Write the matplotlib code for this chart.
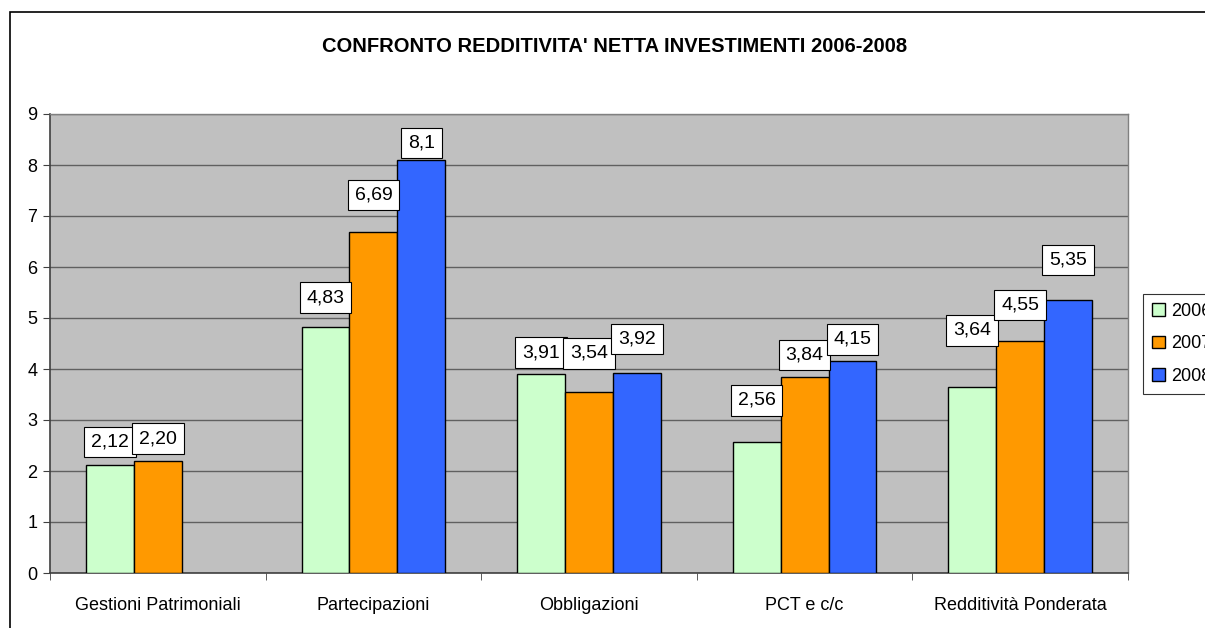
import matplotlib
matplotlib.use("Agg")
import numpy as np
import matplotlib.pyplot as plt
from matplotlib.patches import Patch, Rectangle

plt.rcParams['font.family'] = ['Liberation Sans', 'DejaVu Sans']

# Data
categories = ["Gestioni Patrimoniali", "Partecipazioni", "Obbligazioni",
              "PCT e c/c", "Redditività Ponderata"]
years = ["2006", "2007", "2008"]
vals_2006 = [2.12, 4.83, 3.91, 2.56, 3.64]
vals_2007 = [2.20, 6.69, 3.54, 3.84, 4.55]
vals_2008 = [np.nan, 8.1, 3.92, 4.15, 5.35]
labels_2006 = ["2,12", "4,83", "3,91", "2,56", "3,64"]
labels_2007 = ["2,20", "6,69", "3,54", "3,84", "4,55"]
labels_2008 = ["", "8,1", "3,92", "4,15", "5,35"]

# Styling / layout
colors = ["#CCFFCC", "#FF9900", "#3366FF"]
# label box offsets above bar top (pixels), like Excel's placement
label_dy = [
    [23, 29, 21, 42, 57],
    [22, 37, 39, 22, 36],
    [0, 17, 34, 22, 40],
]

fig = plt.figure(figsize=(12.05, 6.28), dpi=100)
fig.patch.set_facecolor("white")

# outer chart frame (only top/left edges visible)
fig.patches.append(Rectangle((10 / 1205, -0.2), 1.5, 1.2 - 12 / 628,
                             transform=fig.transFigure, fill=False,
                             edgecolor="black", linewidth=1.2))

ax = fig.add_axes([50 / 1205, 1 - 573 / 628, 1078 / 1205, 459 / 628])
ax.set_facecolor("#C0C0C0")

x = np.arange(len(categories))
w = 48 / 216
series = [vals_2006, vals_2007, vals_2008]
labels = [labels_2006, labels_2007, labels_2008]

for k, (vals, labs) in enumerate(zip(series, labels)):
    pos = x + (k - 1) * w
    ax.bar(pos, vals, width=w, color=colors[k], edgecolor="black",
           linewidth=1.0, zorder=3)
    for i, (p, v, lab) in enumerate(zip(pos, vals, labs)):
        if not lab:
            continue
        ax.annotate(lab, (p, v), xytext=(0, label_dy[k][i]),
                    textcoords="offset pixels", ha="center", va="center",
                    fontsize=14, zorder=5,
                    bbox=dict(boxstyle="square,pad=0.35", fc="white",
                              ec="black", lw=0.8))

ax.set_xlim(-0.5, len(categories) - 0.5)
ax.set_ylim(0, 9)
ax.set_yticks(range(0, 10))
ax.yaxis.grid(True, color="#606060", linewidth=1.0, zorder=1)
ax.set_axisbelow(True)

ax.set_xticks(x)
ax.set_xticklabels(categories, fontsize=13)
ax.set_xticks(np.arange(-0.5, len(categories)), minor=True)
ax.tick_params(axis="x", which="major", length=0, pad=17)
ax.tick_params(axis="x", which="minor", length=5, direction="out",
               color="#404040")
ax.tick_params(axis="y", labelsize=13, length=5, direction="out",
               color="#404040", pad=4)

for side in ["left", "bottom"]:
    ax.spines[side].set_color("#404040")
    ax.spines[side].set_linewidth(1.2)
for side in ["top", "right"]:
    ax.spines[side].set_color("#808080")
    ax.spines[side].set_linewidth(1.0)

fig.text(615 / 1205, 1 - 47 / 628, "CONFRONTO REDDITIVITA' NETTA INVESTIMENTI 2006-2008",
         ha="center", va="center", fontsize=14.5, fontweight="bold")

handles = [Patch(facecolor=c, edgecolor="black", linewidth=1.0) for c in colors]
leg = fig.legend(handles, years, loc="upper left",
                 bbox_to_anchor=(1143 / 1205, 1 - 294 / 628),
                 fontsize=13, frameon=True, fancybox=False,
                 edgecolor="black", handlelength=0.7, handleheight=0.7,
                 handletextpad=0.35, labelspacing=0.85, borderpad=0.5,
                 borderaxespad=0)
leg.get_frame().set_linewidth(0.8)

fig.savefig("out.png", dpi=100)
